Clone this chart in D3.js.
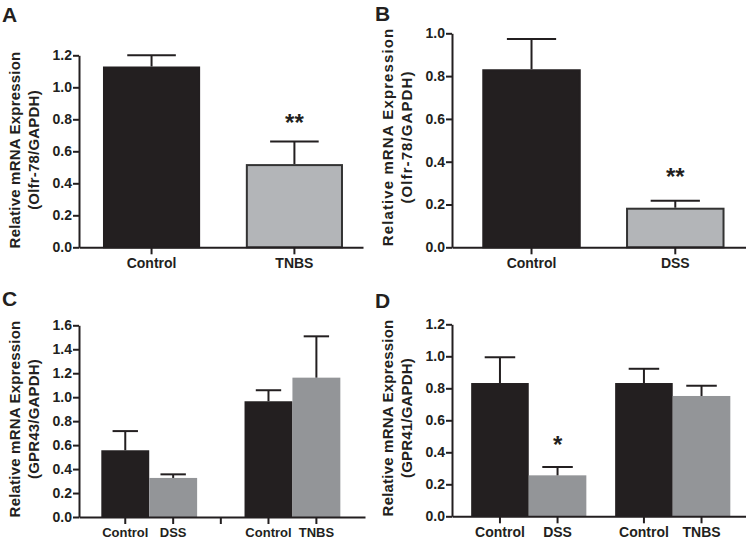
<!DOCTYPE html>
<html>
<head>
<meta charset="utf-8">
<script src="https://cdn.jsdelivr.net/npm/d3@7.9.0/dist/d3.min.js"></script>
<style>
  body { margin: 0; background: #fff; }
  svg { display: block; font-family: "Liberation Sans", Arial, sans-serif; font-weight: bold; }
  .axis path, .axis line { stroke: #231f20; stroke-width: 2; }
  .axis text { fill: #231f20; font-family: "Liberation Sans", Arial, sans-serif; font-weight: bold; }
</style>
</head>
<body>
<svg id="fig" width="746" height="543"></svg>
<script>
// ---- data ----
const yTicksA = [0, 0.2, 0.4, 0.6, 0.8, 1.0, 1.2];
const catsA = ["Control", "TNBS"];
const meanA = [1.13, 0.52];
const semA = [0.07, 0.142];
const starsA = ["", "**"];

const yTicksB = [0, 0.2, 0.4, 0.6, 0.8, 1.0];
const catsB = ["Control", "DSS"];
const meanB = [0.832, 0.185];
const semB = [0.141, 0.032];
const starsB = ["", "**"];

// grouped panels: one value per group for each series
const groupsC = ["DSS", "TNBS"];
const yTicksC = [0, 0.2, 0.4, 0.6, 0.8, 1.0, 1.2, 1.4, 1.6];
const labelsC = [["Control", "DSS"], ["Control", "TNBS"]];
const ctrlMeanC = [0.557, 0.966];
const ctrlSemC = [0.16, 0.092];
const trtMeanC = [0.326, 1.163];
const trtSemC = [0.03, 0.345];

const groupsD = ["DSS", "TNBS"];
const yTicksD = [0, 0.2, 0.4, 0.6, 0.8, 1.0, 1.2];
const labelsD = [["Control", "DSS"], ["Control", "TNBS"]];
const ctrlMeanD = [0.833, 0.833];
const ctrlSemD = [0.161, 0.089];
const trtMeanD = [0.256, 0.752];
const trtSemD = [0.052, 0.064];
const trtStarsD = ["*", ""];

const titleA = ["Relative mRNA Expression", "(Olfr-78/GAPDH)"];
const titleB = ["Relative mRNA Expression", "(Olfr-78/GAPDH)"];
const titleC = ["Relative mRNA Expression", "(GPR43/GAPDH)"];
const titleD = ["Relative mRNA Expression", "(GPR41/GAPDH)"];

const BLACK = "#231f20";
const GRAY_LIGHT = "#b3b5b8";
const GRAY = "#939598";

const svg = d3.select("#fig");

function drawYAxis(g, y, ticks, x) {
  g.append("g").attr("class", "axis")
    .attr("transform", `translate(${x},0)`)
    .call(d3.axisLeft(y).tickValues(ticks).tickFormat(d3.format(".1f"))
      .tickSize(6).tickSizeOuter(0).tickPadding(1))
    .selectAll("text").style("font-size", "14px");
}

function drawTitle(g, lines, x1, x2, yc, spacing) {
  [x1, x2].forEach((x, i) => {
    g.append("text")
      .attr("transform", `translate(${x},${yc}) rotate(-90)`)
      .attr("text-anchor", "middle").attr("dy", "0.35em")
      .style("font-size", "15px").style("letter-spacing", spacing + "px")
      .attr("fill", BLACK)
      .text(lines[i]);
  });
}

function drawLetter(g, letter, x, y) {
  g.append("text").attr("x", x).attr("y", y)
    .style("font-size", "21px").attr("fill", BLACK).text(letter);
}

function errBar(g, cx, yTop, yVal, cap) {
  g.append("line").attr("x1", cx).attr("x2", cx).attr("y1", yVal).attr("y2", yTop)
    .attr("stroke", BLACK).attr("stroke-width", 2);
  g.append("line").attr("x1", cx - cap / 2).attr("x2", cx + cap / 2).attr("y1", yTop).attr("y2", yTop)
    .attr("stroke", BLACK).attr("stroke-width", 2);
}

// simple two-bar panel (A, B)
function simplePanel(opt) {
  const g = svg.append("g");
  const y = d3.scaleLinear().domain([0, d3.max(opt.ticks)]).range([opt.y0, opt.yTop]);
  const x = d3.scaleBand().domain(opt.cats).range([opt.left, opt.right])
    .paddingInner(opt.pi).paddingOuter(opt.po).align(opt.align);
  const bw = x.bandwidth();

  opt.cats.forEach((c, i) => {
    const fill = i === 0 ? BLACK : GRAY_LIGHT;
    g.append("rect")
      .attr("x", x(c) + 1).attr("y", y(opt.mean[i]) + 1)
      .attr("width", bw - 2).attr("height", y(0) - y(opt.mean[i]) - 1)
      .attr("fill", fill).attr("stroke", i === 0 ? BLACK : "#333").attr("stroke-width", 2);
    const cx = x(c) + bw / 2;
    errBar(g, cx, y(opt.mean[i] + opt.sem[i]), y(opt.mean[i]), bw * 0.5);
    if (opt.stars[i]) {
      g.append("text").attr("x", cx).attr("y", y(opt.mean[i] + opt.sem[i]) - opt.starGap)
        .attr("text-anchor", "middle").style("font-size", "24px").attr("fill", BLACK)
        .text(opt.stars[i]);
    }
  });

  g.append("g").attr("class", "axis")
    .attr("transform", `translate(0,${opt.y0})`)
    .call(d3.axisBottom(x).tickSize(7).tickSizeOuter(0).tickPadding(4))
    .selectAll("text").style("font-size", "14px");
  drawYAxis(g, y, opt.ticks, opt.left);
  drawTitle(g, opt.title, opt.tx1, opt.tx2, opt.tyc, opt.ls);
  drawLetter(g, opt.letter, opt.lx, opt.ly);
}

// grouped panel (C, D)
function groupedPanel(opt) {
  const g = svg.append("g");
  const y = d3.scaleLinear().domain([0, d3.max(opt.ticks)]).range([opt.y0, opt.yTop]);
  const x0 = d3.scaleBand().domain(opt.groups).range([opt.left, opt.right])
    .paddingInner(opt.pi).paddingOuter(opt.po).align(opt.align);
  const series = ["ctrl", "trt"];
  const x1 = d3.scaleBand().domain(series).range([0, x0.bandwidth()]).padding(0);
  const bw = x1.bandwidth();
  const means = { ctrl: opt.ctrlMean, trt: opt.trtMean };
  const sems = { ctrl: opt.ctrlSem, trt: opt.trtSem };

  opt.groups.forEach((grp, gi) => {
    series.forEach(s => {
      const m = means[s][gi];
      const xs = x0(grp) + x1(s);
      g.append("rect").attr("x", xs).attr("y", y(m))
        .attr("width", bw).attr("height", y(0) - y(m))
        .attr("fill", s === "ctrl" ? BLACK : GRAY);
      const cx = xs + bw / 2;
      const top = y(m + sems[s][gi]);
      errBar(g, cx, top, y(m), bw * 0.53);
      if (s === "trt" && opt.stars && opt.stars[gi]) {
        g.append("text").attr("x", cx).attr("y", top - opt.starGap)
          .attr("text-anchor", "middle").style("font-size", "24px").attr("fill", BLACK)
          .text(opt.stars[gi]);
      }
    });

    // ticks + labels under each bar of the group
    const ax = g.append("g").attr("class", "axis")
      .attr("transform", `translate(${x0(grp)},${opt.y0})`)
      .call(d3.axisBottom(x1).tickSize(7).tickPadding(4)
        .tickFormat((d, i) => opt.labels[gi][i]));
    ax.select(".domain").remove();
    ax.selectAll("text").style("font-size", opt.xFont + "px");
  });

  // baseline of the x axis
  g.append("g").attr("class", "axis")
    .attr("transform", `translate(0,${opt.y0})`)
    .call(d3.axisBottom(x0).tickValues([]).tickSizeOuter(0));

  if (opt.gapTick) {
    const gx = (x0(opt.groups[0]) + x0.bandwidth() + x0(opt.groups[1])) / 2;
    g.append("line").attr("x1", gx).attr("x2", gx)
      .attr("y1", opt.y0).attr("y2", opt.y0 + 7)
      .attr("stroke", BLACK).attr("stroke-width", 2);
  }

  drawYAxis(g, y, opt.ticks, opt.left);
  drawTitle(g, opt.title, opt.tx1, opt.tx2, opt.tyc, opt.ls);
  drawLetter(g, opt.letter, opt.lx, opt.ly);
}

simplePanel({
  letter: "A", lx: 2, ly: 22, title: titleA, tx1: 15, tx2: 34, tyc: 150, ls: 0.2,
  cats: catsA, mean: meanA, sem: semA, stars: starsA, ticks: yTicksA, starGap: 10,
  left: 79, right: 363, y0: 247.3, yTop: 55.3, pi: 0.32, po: 0.154, align: 0.545
});

simplePanel({
  letter: "B", lx: 375, ly: 21, title: titleB, tx1: 388, tx2: 407, tyc: 137, ls: 1.1,
  cats: catsB, mean: meanB, sem: semB, stars: starsB, ticks: yTicksB, starGap: 16,
  left: 452, right: 746, y0: 247.3, yTop: 33.3, pi: 0.315, po: 0.18, align: 0.585
});

groupedPanel({
  letter: "C", lx: 2, ly: 306, title: titleC, tx1: 15, tx2: 34, tyc: 419, ls: 0.2,
  groups: groupsC, labels: labelsC, ticks: yTicksC, xFont: 13, gapTick: true,
  ctrlMean: ctrlMeanC, ctrlSem: ctrlSemC, trtMean: trtMeanC, trtSem: trtSemC,
  left: 79, right: 365, y0: 517, yTop: 325.3, pi: 0.331, po: 0.164, align: 0.475
});

groupedPanel({
  letter: "D", lx: 375, ly: 308, title: titleD, tx1: 388, tx2: 407, tyc: 418, ls: 0.2,
  groups: groupsD, labels: labelsD, ticks: yTicksD, xFont: 14, gapTick: false,
  ctrlMean: ctrlMeanD, ctrlSem: ctrlSemD, trtMean: trtMeanD, trtSem: trtSemD,
  stars: trtStarsD, starGap: 14,
  left: 452, right: 746, y0: 516.3, yTop: 324.3, pi: 0.2, po: 0.121, align: 0.55
});
</script>
</body>
</html>
